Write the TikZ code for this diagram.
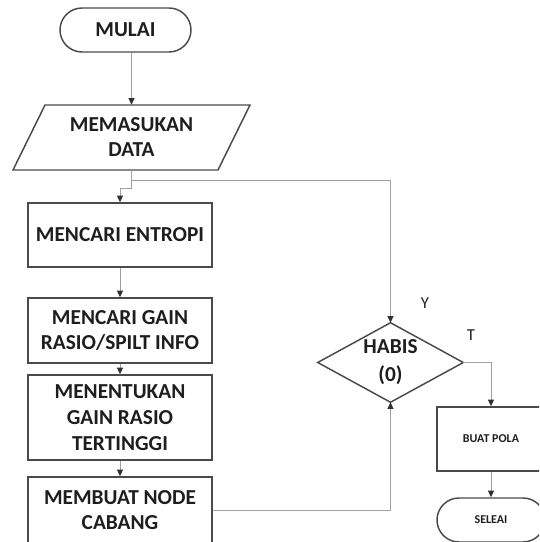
\documentclass[tikz,border=0pt]{standalone}
\usepackage{fontspec}
\setmainfont{Carlito}
\usetikzlibrary{arrows.meta,calc}
\definecolor{bordc}{HTML}{4A4A4A}
\definecolor{connc}{HTML}{A0A0A0}
\definecolor{arrc}{HTML}{303030}
\definecolor{txtc}{HTML}{1E1E1E}
\begin{document}
\begin{tikzpicture}[x=0.75pt,y=-0.75pt,
  box/.style={draw=bordc, line width=1.1pt, fill=white, minimum width=138pt, inner sep=0pt,
    align=center, text=txtc, font=\bfseries\fontsize{16}{18.75}\selectfont},
  smallbox/.style={draw=bordc, line width=1.1pt, fill=white, minimum width=81pt, inner sep=0pt,
    align=center, text=txtc, font=\bfseries\fontsize{9}{10}\selectfont},
  plain/.style={inner sep=0pt, align=center, text=txtc, font=\bfseries\fontsize{16}{18.75}\selectfont},
  lab/.style={inner sep=0pt, text=txtc, font=\fontsize{12.5}{14}\selectfont},
  conn/.style={draw=connc, line width=0.75pt, -{Triangle[length=5pt,width=4.5pt,color=arrc]}},
  line/.style={draw=connc, line width=0.75pt}
]
\useasboundingbox (0,0) rectangle (539,542);
\clip (0,0) rectangle (539,542);
\fill[white] (0,0) rectangle (539,542);

% nodes
\node[box, minimum width=98.25pt, minimum height=33pt, rounded corners=16.5pt] (mulai) at (125.5,30) {MULAI};
\draw[draw=bordc, line width=1.1pt] (45,105) -- (250,105) -- (218,170) -- (13,170) -- cycle;
\node[plain, minimum height=48.75pt] (data) at (131.5,137.5) {MEMASUKAN\\DATA};

\node[box, minimum height=48pt] (b1) at (120,235) {MENCARI ENTROPI};
\node[box, minimum height=48.75pt] (b2) at (120,330.5) {MENCARI GAIN\\RASIO/SPILT INFO};
\node[box, minimum height=63.75pt, font=\bfseries\fontsize{16}{19.5}\selectfont] (b3) at (120,417.5) {MENENTUKAN\\GAIN RASIO\\TERTINGGI};
\node[box, minimum height=50.25pt] (b4) at (120,510.5) {MEMBUAT NODE\\CABANG};

\node[plain, minimum width=108.75pt, minimum height=59.25pt, font=\bfseries\fontsize{16}{21}\selectfont] (hab) at (390.5,362.5) {HABIS\\(0)};
\draw[draw=bordc, line width=1.1pt] (hab.north) -- (hab.east) -- (hab.south) -- (hab.west) -- cycle;

\node[smallbox, minimum height=48pt] (pola) at (491,439) {BUAT POLA};
\node[smallbox, minimum height=33pt, rounded corners=16.5pt] (sel) at (491,520) {SELEAI};

\node[lab] (ly) at (425,303) {Y};
\node[lab] (lt) at (471,335) {T};

% connectors
\draw[conn] (mulai.south -| data.north) -- (data.north);
\coordinate (j1) at ($(data.south)+(0,18)$);
\coordinate (j2) at ($(data.south)+(0,10)$);
\draw[conn] (data.south) -- (j1) -| (b1.north);
\draw[conn] (j2) -| (hab.north);
\draw[conn] (b1.south) -- (b2.north);
\draw[conn] (b2.south) -- (b3.north);
\draw[conn] (b3.south) -- (b4.north);
\draw[conn] (b4.east) -| (hab.south);
\draw[conn] (hab.east) -| (pola.north);
\draw[conn] (pola.south) -- (sel.north);
\end{tikzpicture}
\end{document}
